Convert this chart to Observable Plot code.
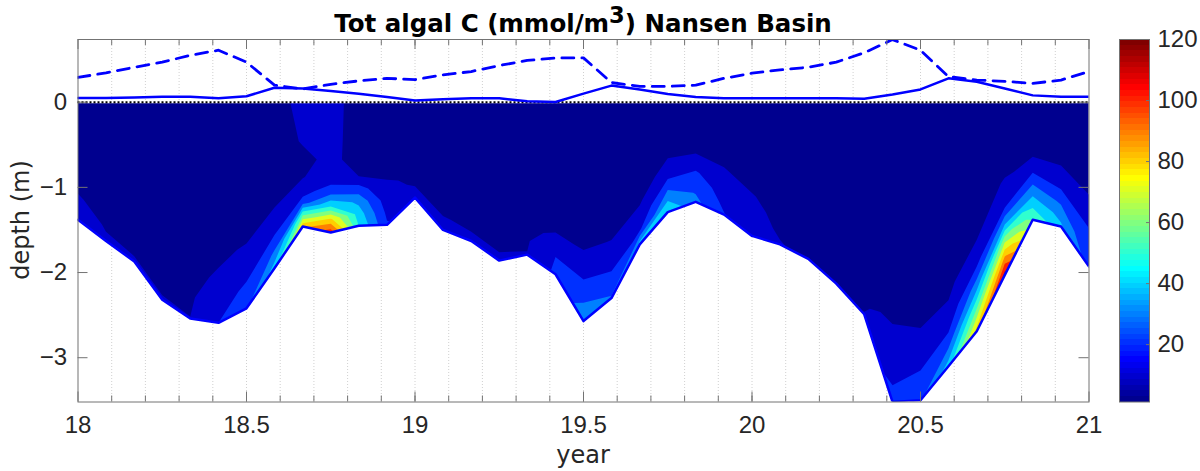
<!DOCTYPE html>
<html>
<head>
<meta charset="utf-8">
<script src="https://cdn.jsdelivr.net/npm/d3@7"></script>
<script src="https://cdn.jsdelivr.net/npm/@observablehq/plot@0.6"></script>
<style>
  body { margin: 0; background: #fff; }
  #wrap { position: relative; width: 1200px; height: 471px; overflow: hidden; background: #fff; }
  .txt { position: absolute; white-space: nowrap; color: #262626; font-family: "DejaVu Sans", sans-serif; }
</style>
</head>
<body>
<div id="wrap">
  <div id="chart" style="position:absolute;left:0;top:0"></div>
  <div id="cbar" style="position:absolute;left:1100px;top:0"></div>
  <div class="txt" id="title" style="left:283px;top:12.3px;width:600px;text-align:center;font-weight:bold;font-size:24.5px;line-height:24.5px;color:#000">Tot algal C (mmol/m<span style="font-size:0.92em;position:relative;top:-9px">3</span>) Nansen Basin</div>
  <div class="txt" id="xlabel" style="left:283px;top:442.7px;width:600px;text-align:center;font-size:24px;line-height:24px">year</div>
  <div class="txt" id="ylabel" style="left:-129px;top:207.5px;width:300px;height:24px;text-align:center;font-size:24px;line-height:24px;transform:rotate(-90deg)">depth (m)</div>
</div>
<script>
// ---------------- data ----------------
const time = [18.000, 18.083, 18.167, 18.250, 18.333, 18.417, 18.500, 18.583, 18.667, 18.750,
              18.833, 18.917, 19.000, 19.083, 19.167, 19.250, 19.333, 19.417, 19.500, 19.583,
              19.667, 19.750, 19.833, 19.917, 20.000, 20.083, 20.167, 20.250, 20.333, 20.417,
              20.500, 20.583, 20.667, 20.750, 20.833, 20.917, 21.000];

// ice bottom (m)
const iceBottom = [-1.38, -1.63, -1.87, -2.32, -2.54, -2.59, -2.42, -1.95, -1.46, -1.53,
                   -1.45, -1.44, -1.12, -1.50, -1.63, -1.86, -1.79, -2.02, -2.57, -2.30,
                   -1.67, -1.29, -1.17, -1.32, -1.57, -1.67, -1.84, -2.13, -2.49, -3.52,
                   -3.50, -3.10, -2.69, -2.03, -1.38, -1.46, -1.93];

// solid line above the ice surface (m)
const surfaceLine = [0.050, 0.050, 0.055, 0.065, 0.065, 0.045, 0.070, 0.170, 0.160, 0.130,
                     0.100, 0.060, 0.020, 0.035, 0.045, 0.045, 0.010, 0.003, 0.100, 0.195,
                     0.150, 0.095, 0.060, 0.045, 0.045, 0.045, 0.045, 0.045, 0.040, 0.090,
                     0.150, 0.280, 0.240, 0.160, 0.080, 0.065, 0.065];

// dashed line (m)
const dashedLine = [0.290, 0.345, 0.410, 0.470, 0.550, 0.610, 0.470, 0.200, 0.155, 0.210,
                    0.250, 0.280, 0.265, 0.320, 0.360, 0.430, 0.490, 0.520, 0.520, 0.230,
                    0.185, 0.185, 0.200, 0.280, 0.340, 0.380, 0.410, 0.470, 0.580, 0.735,
                    0.610, 0.300, 0.260, 0.245, 0.220, 0.260, 0.360];

// fractional depth levels inside the ice (0 = surface, 1 = ice bottom)
const fracLevels = [0, 0.3, 0.45, 0.6, 0.7, 0.8, 0.9, 1.0];

// total algal C (mmol/m3) at each fractional level, one value per month
const algC_f000 = [3,3,3,3,3,3,3,5,14,14, 5.5,4,3,3,3,3,3,3,3,3, 3,3,3,3,3,3,3,3,3,3, 3,3,3,3,3,3,3];
const algC_f030 = [4,4,4,4,4,4,4,4,11,13, 6,5,4,4,4,4,4,4,4,4, 4,5,5,5,4,4,4,4,4,4, 4,4,4,5,5,5,5];
const algC_f045 = [5,5,5,5,5,5,5,6,8,12, 7,6,5,5,5,5,5,5,5,5, 5,8,8.5,7,6,5,5,5,5,5, 5,5,7,10.5,9,8,7];
const algC_f060 = [6,6,6,6,6,7,7,8.5,9.5,16, 10,9,6,6,6,6,6,6,7,7, 6.5,13,12,10.5,8,6,6,6,6,6, 6,6,10,18,20,13,11];
const algC_f070 = [8,7,7,7,7,9,10.5,13,14,28, 24,12,7,7,7,7,7,8,11,9.8, 9,20,21,13,10.5,7,7,7,7,9, 8,8,17,38,30,20,18];
const algC_f080 = [10.5,8,8,8,8,11,15,20,24,50, 37,15,8,8,8,8,8,11.5,19,15, 13,30,26,15.5,12,8,7.5,7.5,8,11.5, 11.5,12,35,67,40,28,21];
const algC_f090 = [13,9.5,9,9,9,15,22,31,57,82, 45,18,10.5,10.2,9.5,9.3,9,20,29,23, 19,40,29,18,13,9,8,8,8.5,16, 20,23,60,92,50,36,23.5];
const algC_f100 = [15,11,10.5,10.3,10.1,20,28,45,88,106, 50,21,13,13,11,10.8,10.3,22,35,31, 46,48,33,20.5,14,10.5,8.5,8.5,10.2,25, 28,45,85,115,60,42,26];

const contourLevels = [0, 10, 20, 30, 40, 50, 60, 70, 80, 90, 100, 110];
const colorRange = [1.2, 120];

const xMajorTicks = [18, 18.5, 19, 19.5, 20, 20.5, 21];
const xMinorTicks = [18.1, 18.2, 18.3, 18.4, 18.5, 18.6, 18.7, 18.8, 18.9, 19.0,
                     19.1, 19.2, 19.3, 19.4, 19.5, 19.6, 19.7, 19.8, 19.9, 20.0,
                     20.1, 20.2, 20.3, 20.4, 20.5, 20.6, 20.7, 20.8, 20.9];
const yTicks = [-3, -2, -1, 0];
const cbTicks = [20, 40, 60, 80, 100, 120];

// ---------------- MATLAB jet(64) colormap ----------------
function jetMap(m) {
  const n = Math.ceil(m / 4);
  const u = [];
  for (let i = 1; i <= n; i++) u.push(i / n);
  for (let i = 1; i < n; i++) u.push(1);
  for (let i = n; i >= 1; i--) u.push(i / n);
  const g0 = Math.ceil(n / 2) - (m % 4 === 1 ? 1 : 0);
  const J = Array.from({length: m}, () => [0, 0, 0]);
  for (let k = 0; k < u.length; k++) {
    const g = g0 + k + 1, r = g + n, b = g - n;
    if (r >= 1 && r <= m) J[r - 1][0] = u[k];
    if (g >= 1 && g <= m) J[g - 1][1] = u[k];
    if (b >= 1 && b <= m) J[b - 1][2] = u[k];
  }
  return J.map(([r, g, b]) => `rgb(${Math.round(r * 255)},${Math.round(g * 255)},${Math.round(b * 255)})`);
}
const JET = jetMap(64);
const jetInterp = (t) => JET[Math.max(0, Math.min(63, Math.floor(t * 64)))];

// ---------------- contour geometry ----------------
const n = time.length, m = fracLevels.length;
const grid = [algC_f000, algC_f030, algC_f045, algC_f060, algC_f070, algC_f080, algC_f090, algC_f100];
const values = grid.flat();
const polys = d3.contours().size([n, m]).thresholds(contourLevels)(values);

function toData([x, y]) {
  const u = Math.max(0, Math.min(n - 1, x - 0.5));
  const v = Math.max(0, Math.min(m - 1, y - 0.5));
  const i0 = Math.min(n - 2, Math.floor(u)), tu = u - i0;
  const j0 = Math.min(m - 2, Math.floor(v)), tv = v - j0;
  const yr = time[i0] + tu * (time[i0 + 1] - time[i0]);
  const f = fracLevels[j0] + tv * (fracLevels[j0 + 1] - fracLevels[j0]);
  const b = iceBottom[i0] + tu * (iceBottom[i0 + 1] - iceBottom[i0]);
  return [yr, f * b];
}
const features = polys
  .filter(p => p.coordinates.length)
  .map(p => ({
    type: "Feature",
    properties: {value: p.value},
    geometry: {type: "MultiPolygon", coordinates: p.coordinates.map(poly => poly.map(ring => ring.map(toData)))}
  }));

const rows = time.map((t, i) => ({t, bottom: iceBottom[i], top: surfaceLine[i], dash: dashedLine[i]}));

// ---------------- main chart ----------------
const frameColor = "#737373";
const W = 1120, ML = 77.5, MR = W - 1088.5, MT = 39, MB = 69.5, H = 471;
const plotW = W - ML - MR, plotH = H - MT - MB;
const colorOpts = {type: "linear", domain: colorRange, interpolate: jetInterp, clamp: true};
const fmt = d3.format("~g");

const chart = Plot.plot({
  width: W, height: H,
  marginLeft: ML, marginRight: MR, marginTop: MT, marginBottom: MB,
  x: {domain: [18, 21]},
  y: {domain: [-3.52, 0.736]},
  color: colorOpts,
  style: {fontFamily: "'Liberation Sans', Arial, sans-serif", fontSize: "24px", color: "#262626", background: "white", overflow: "visible"},
  marks: [
    Plot.ruleX(xMinorTicks, {x: d => d, stroke: "#c4c4c4", strokeWidth: 0.8, strokeDasharray: "1,2"}),
    Plot.geo(features, {fill: d => d.properties.value, stroke: "none", clip: true}),
    Plot.ruleY([0], {stroke: "white", strokeWidth: 2}),
    Plot.ruleY([0], {stroke: "black", strokeWidth: 2, strokeDasharray: "2,2"}),
    Plot.line(rows, {x: "t", y: "top", stroke: "#0000ff", strokeWidth: 2.5, clip: true}),
    Plot.line(rows, {x: "t", y: "dash", stroke: "#0000ff", strokeWidth: 2.8, strokeDasharray: "12,8", clip: true}),
    Plot.line(rows, {x: "t", y: "bottom", stroke: "#0000ff", strokeWidth: 2.5, clip: true}),
    Plot.frame({stroke: frameColor}),
    Plot.tickX(xMinorTicks, {x: d => d, insetTop: plotH - 6, stroke: frameColor}),
    Plot.tickX(xMajorTicks, {x: d => d, insetTop: plotH - 10, stroke: frameColor}),
    Plot.tickX(xMinorTicks, {x: d => d, insetBottom: plotH - 6, stroke: frameColor}),
    Plot.tickX(xMajorTicks, {x: d => d, insetBottom: plotH - 10, stroke: frameColor}),
    Plot.tickY(yTicks, {y: d => d, insetRight: plotW - 10, stroke: frameColor}),
    Plot.tickY(yTicks, {y: d => d, insetLeft: plotW - 10, stroke: frameColor}),
    Plot.axisX({ticks: xMajorTicks, tickFormat: fmt, tickSize: 0, tickPadding: 13.5, label: null, fill: "#262626"}),
    Plot.axisY({ticks: yTicks, tickFormat: fmt, tickSize: 0, tickPadding: 11, label: null, fill: "#262626"})
  ]
});
document.getElementById("chart").append(chart);

// ---------------- colorbar ----------------
const cbCells = JET.map((c, i) => {
  const y1 = colorRange[0] + (i / 64) * (colorRange[1] - colorRange[0]);
  const y2 = colorRange[0] + ((i + 1) / 64) * (colorRange[1] - colorRange[0]);
  return {y1, y2, v: (y1 + y2) / 2};
});
const cbar = Plot.plot({
  width: 100, height: 471,
  marginLeft: 19, marginRight: 51, marginTop: 39, marginBottom: 69.5,
  x: {domain: [0, 1], axis: null},
  y: {domain: colorRange},
  color: colorOpts,
  style: {fontFamily: "'Liberation Sans', Arial, sans-serif", fontSize: "24px", color: "#262626", background: "transparent", overflow: "visible"},
  marks: [
    Plot.rect(cbCells, {x1: 0, x2: 1, y1: "y1", y2: "y2", fill: "v", shapeRendering: "crispEdges"}),
    Plot.frame({stroke: frameColor}),
    Plot.tickY(cbTicks, {y: d => d, insetLeft: 27, stroke: frameColor}),
    Plot.axisY({anchor: "right", ticks: cbTicks, tickFormat: fmt, tickSize: 0, tickPadding: 8, label: null, fill: "#262626"})
  ]
});
document.getElementById("cbar").append(cbar);
</script>
</body>
</html>
